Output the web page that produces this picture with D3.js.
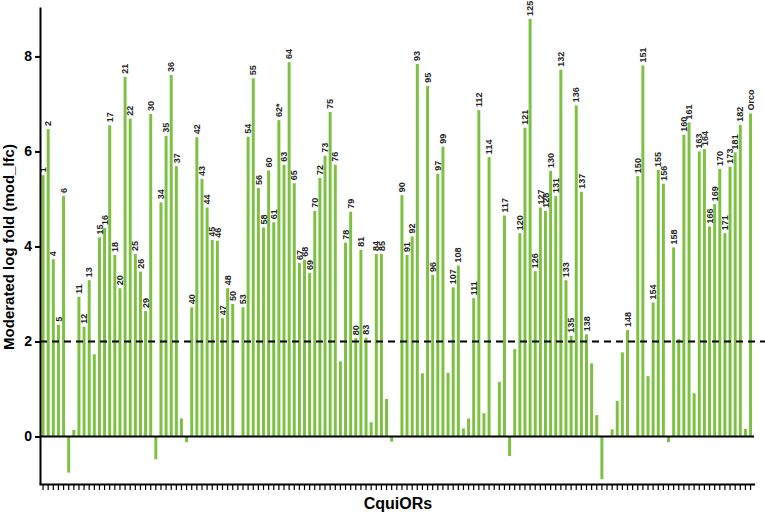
<!DOCTYPE html>
<html>
<head>
<meta charset="utf-8">
<script src="https://cdn.jsdelivr.net/npm/d3@7"></script>
<style>
  html, body { margin: 0; padding: 0; background: #fff; }
  svg { display: block; }
</style>
</head>
<body>
<svg id="chart" width="765" height="515"></svg>
<script>
// ---- data ----
const labels = ["1","2","4","5","6","","","11","12","13","","15","16","17","18","20","21","22","25","26","29","30","","34","35","36","37","","","40","42","43","44","45","46","47","48","50","","53","54","55","56","58","60","61","62*","63","64","65","67","68","69","70","72","73","75","76","","78","79","80","81","83","","84","85","","","","90","91","92","93","","95","96","97","99","","107","108","","","111","112","","114","","","117","","","120","121","125","126","127","128","130","131","132","133","135","136","137","138","","","","","","","","148","","150","151","","154","155","156","","158","","160","161","","163","164","166","169","170","171","173","181","182","","Orco"];
const values = [5.5,6.47,3.73,2.35,5.06,-0.76,0.14,2.94,2.31,3.29,1.73,4.19,4.39,6.55,3.82,3.12,7.57,6.69,3.84,3.47,2.64,6.79,-0.48,4.93,6.33,7.61,5.69,0.38,-0.12,2.72,6.3,5.42,4.82,4.14,4.12,2.49,3.12,2.79,0,2.72,6.31,7.54,5.23,4.4,5.6,4.51,6.66,5.72,7.88,5.33,3.65,3.72,3.44,4.75,5.44,5.91,6.83,5.72,1.58,4.08,4.73,2.07,3.93,2.08,0.3,3.84,3.84,0.79,-0.11,0,5.08,3.82,4.21,7.84,1.33,7.38,3.4,5.53,6.1,1.34,3.14,3.6,0.17,0.38,2.91,6.87,0.49,5.88,0,1.15,4.65,-0.41,1.84,4.28,6.5,8.79,3.48,4.82,4.75,5.59,5.06,7.72,3.29,2.12,6.97,5.15,2.15,1.54,0.45,-0.9,0,0.15,0.75,1.77,2.24,0,5.48,7.81,1.27,2.82,5.61,5.32,-0.12,3.98,2.05,6.35,6.61,0.91,6.0,6.05,4.42,4.89,5.63,4.28,5.68,5.98,6.56,0.16,6.8];
const yTicks = [0, 2, 4, 6, 8];
const threshold = 2;
const xTitle = "CquiORs";
const yTitle = "Moderated log fold (mod_lfc)";

// ---- layout ----
const svg = d3.select("#chart");
const green = "#7dc142";
const font = "'Liberation Sans', Arial, sans-serif";

const idx = values.map((d, i) => i);
const x = d3.scaleBand().domain(idx).range([39, 754.6]).paddingInner(0.42).paddingOuter(0.5);
const y = d3.scaleLinear().domain([-1, 9.04]).range([484, 7]);

// bars
svg.append("g").selectAll("rect").data(values).join("rect")
  .attr("x", (d, i) => x(i))
  .attr("width", x.bandwidth())
  .attr("y", d => y(Math.max(0, d)))
  .attr("height", d => Math.abs(y(d) - y(0)))
  .attr("fill", green);

// bar labels
svg.append("g").selectAll("text").data(values.map((v, i) => ({v, i, l: labels[i]})).filter(d => d.l !== ""))
  .join("text")
  .attr("transform", d => `translate(${x(d.i) + x.bandwidth() / 2},${y(Math.max(0, d.v)) - 3}) rotate(-90)`)
  .attr("dy", "0.35em")
  .attr("text-anchor", "start")
  .attr("font-family", font)
  .attr("font-size", 9)
  .attr("font-weight", "bold")
  .attr("fill", "#222")
  .text(d => d.l);

// zero line
svg.append("line")
  .attr("x1", 40).attr("x2", 754)
  .attr("y1", y(0)).attr("y2", y(0))
  .attr("stroke", "#000").attr("stroke-width", 2);

// threshold dashed line
svg.append("line")
  .attr("x1", 40).attr("x2", 765)
  .attr("y1", y(threshold)).attr("y2", y(threshold))
  .attr("stroke", "#000").attr("stroke-width", 2)
  .attr("stroke-dasharray", "7,5");

// y axis
const yAxis = svg.append("g").attr("transform", "translate(40,0)")
  .call(d3.axisLeft(y).tickValues(yTicks).tickSize(5).tickSizeOuter(0).tickPadding(3));
yAxis.select(".domain").attr("stroke-width", 2);
yAxis.selectAll(".tick line").attr("stroke-width", 2);
yAxis.selectAll("text").attr("font-family", font).attr("font-size", 14).attr("font-weight", "bold").attr("fill", "#000");

// x axis
const xAxis = svg.append("g").attr("transform", `translate(0,${y(-1)})`)
  .call(d3.axisBottom(x).tickSize(6).tickSizeOuter(0).tickFormat(""));
xAxis.select(".domain").attr("stroke-width", 2);
xAxis.selectAll(".tick line").attr("stroke-width", 1.2);

// titles
svg.append("text")
  .attr("x", 398).attr("y", 509)
  .attr("text-anchor", "middle")
  .attr("font-family", font).attr("font-size", 16).attr("font-weight", "bold")
  .text(xTitle);

svg.append("text")
  .attr("transform", "translate(14,247) rotate(-90)")
  .attr("text-anchor", "middle")
  .attr("font-family", font).attr("font-size", 15).attr("font-weight", "bold")
  .text(yTitle);
</script>
</body>
</html>
